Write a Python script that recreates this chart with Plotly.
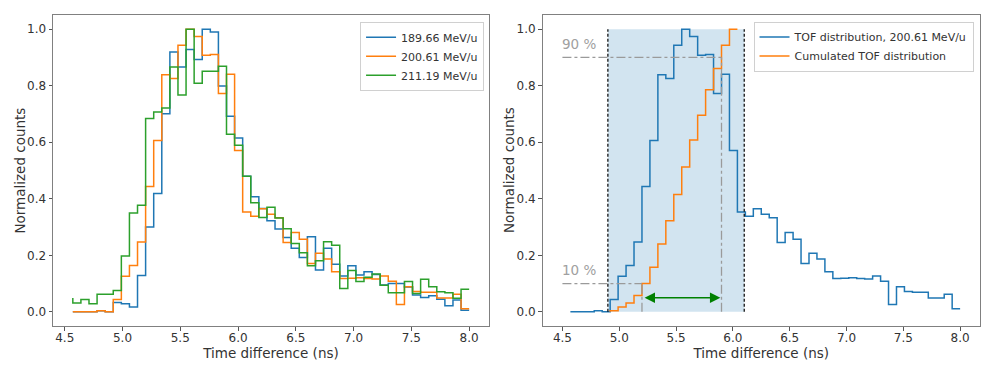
import numpy as np
import plotly.graph_objects as go

# bin edges of the TOF histograms (ns)
tof_edges = np.round(4.57 + 0.07 * np.arange(50), 2)

# normalized counts, first value = start point of the step line, then one per bin
counts_18966 = [0, 0, 0, 0, 0.004, 0, 0.033, 0.029, 0.017, 0.129, 0.30, 0.419, 0.701,
                0.919, 0.866, 0.928, 0.893, 1.0, 0.99, 0.799, 0.692, 0.615, 0.48, 0.407,
                0.366, 0.322, 0.293, 0.263, 0.225, 0.192, 0.266, 0.148, 0.225, 0.168,
                0.127, 0.163, 0.13, 0.142, 0.132, 0.095, 0.1, 0.1, 0.088, 0.06, 0.051,
                0.057, 0.045, 0.022, 0.042, 0.006]
counts_20061 = [0, 0, 0, 0, 0.004, 0, 0.044, 0.126, 0.164, 0.247, 0.443, 0.606, 0.839,
                0.825, 0.943, 1.0, 0.974, 0.908, 0.91, 0.772, 0.84, 0.571, 0.353, 0.338,
                0.365, 0.345, 0.333, 0.245, 0.281, 0.257, 0.171, 0.207, 0.187, 0.142,
                0.118, 0.119, 0.121, 0.118, 0.116, 0.127, 0.108, 0.026, 0.089, 0.072,
                0.069, 0.069, 0.049, 0.049, 0.062, 0.011]
counts_21119 = [0.049, 0.031, 0.044, 0.029, 0.062, 0.062, 0.076, 0.198, 0.35, 0.377,
                0.684, 0.707, 0.721, 0.866, 0.767, 1.0, 0.809, 0.851, 0.851, 0.869,
                0.628, 0.589, 0.48, 0.386, 0.334, 0.37, 0.332, 0.294, 0.242, 0.209,
                0.163, 0.181, 0.248, 0.236, 0.083, 0.146, 0.107, 0.122, 0.134, 0.094,
                0.068, 0.068, 0.107, 0.065, 0.115, 0.089, 0.071, 0.068, 0.048, 0.08]

# cumulated distribution inside the selection window
cumul_edges = tof_edges[5:22]
cumul_20061 = [0, 0.004, 0.017, 0.031, 0.058, 0.100, 0.158, 0.240, 0.322, 0.415,
               0.512, 0.608, 0.695, 0.786, 0.861, 0.943, 1.0]

window = (4.9, 6.1)
levels = (0.1, 0.9)
level_times = (5.2, 5.9)
level_labels = ["10 %", "90 %"]

FONT = "DejaVu Sans"
TXT = "#333333"
blue, orange, green = "#1f77b4", "#ff7f0e", "#2ca02c"

fig = go.Figure()

# left panel
for vals, name, col in [(counts_18966, "189.66 MeV/u", blue),
                        (counts_20061, "200.61 MeV/u", orange),
                        (counts_21119, "211.19 MeV/u", green)]:
    fig.add_trace(go.Scatter(x=tof_edges, y=vals, mode="lines", line_shape="vh",
                             line=dict(color=col, width=1.5), name=name,
                             xaxis="x", yaxis="y", legend="legend"))

# right panel
fig.add_trace(go.Scatter(x=tof_edges, y=counts_20061, mode="lines", line_shape="vh",
                         line=dict(color=blue, width=1.5),
                         name="TOF distribution, 200.61 MeV/u",
                         xaxis="x2", yaxis="y2", legend="legend2"))
fig.add_trace(go.Scatter(x=cumul_edges, y=cumul_20061, mode="lines", line_shape="vh",
                         line=dict(color=orange, width=1.5),
                         name="Cumulated TOF distribution",
                         xaxis="x2", yaxis="y2", legend="legend2"))

shapes = [
    dict(type="rect", xref="x2", yref="y2", x0=window[0], x1=window[1], y0=0, y1=1,
         fillcolor="rgba(31,119,180,0.2)", line=dict(width=0), layer="below"),
]
for xv in window:
    shapes.append(dict(type="line", xref="x2", yref="y2", x0=xv, x1=xv, y0=0, y1=1,
                       line=dict(color="black", width=1.2, dash="3px,2px")))
for lv, tv in zip(levels, level_times):
    shapes.append(dict(type="line", xref="x2", yref="y2", x0=4.5, x1=tv, y0=lv, y1=lv,
                       line=dict(color="#9a9a9a", width=1.3, dash="dashdot")))
    shapes.append(dict(type="line", xref="x2", yref="y2", x0=tv, x1=tv, y0=0, y1=lv,
                       line=dict(color="#9a9a9a", width=1.3, dash="dashdot")))

annotations = []
for lv, lab in zip(levels, level_labels):
    annotations.append(dict(x=4.5, y=lv + 0.012, xref="x2", yref="y2", text=lab,
                            showarrow=False, xanchor="left", yanchor="bottom",
                            xshift=-2, font=dict(family=FONT, size=13.5, color="#a0a0a0")))
annotations.append(dict(x=level_times[1] - 0.01, y=0.05, ax=level_times[0] + 0.01, ay=0.05,
                        xref="x2", yref="y2", axref="x2", ayref="y2", text="",
                        showarrow=True, arrowhead=2, arrowside="end+start",
                        arrowsize=1.3, arrowwidth=1.6, arrowcolor="green"))
# y axis titles as rotated text, placed left of each panel
for xp in (-0.0366, 0.4915):
    annotations.append(dict(x=xp, y=0.5, xref="paper", yref="paper",
                            text="Normalized counts", textangle=-90, showarrow=False,
                            xanchor="center", yanchor="middle",
                            font=dict(family=FONT, size=13.5, color=TXT)))

axis_common = dict(showline=True, linecolor="#808080", linewidth=1, mirror=True,
                   ticks="outside", ticklen=3.5, tickcolor="#555555", showgrid=False,
                   zeroline=False, automargin=False,
                   tickfont=dict(family=FONT, size=12, color=TXT))
x_title = dict(text="Time difference (ns)", standoff=0,
               font=dict(family=FONT, size=13.5, color=TXT))
x_ticks = dict(tickvals=np.arange(4.5, 8.01, 0.5), tickformat=".1f", ticklabelstandoff=-3)
y_ticks = dict(tickvals=np.arange(0, 1.01, 0.2), tickformat=".1f", range=[-0.05, 1.05],
               domain=[0, 1])
legend_style = dict(xanchor="right", yanchor="top", bgcolor="rgba(255,255,255,0.8)",
                    bordercolor="#d0d0d0", borderwidth=1,
                    font=dict(family=FONT, size=11, color=TXT), itemwidth=30,
                    tracegroupgap=0)

fig.update_layout(
    width=996, height=374,
    margin=dict(l=53, r=16, t=15, b=48),
    plot_bgcolor="white", paper_bgcolor="white",
    font=dict(family=FONT, color=TXT),
    shapes=shapes, annotations=annotations,
    xaxis=dict(domain=[0, 0.4703], range=[4.3985, 8.1715], title=x_title,
               **x_ticks, **axis_common),
    yaxis=dict(anchor="x", **y_ticks, **axis_common),
    xaxis2=dict(domain=[0.5281, 1], range=[4.325, 8.175], anchor="y2", title=x_title,
                **x_ticks, **axis_common),
    yaxis2=dict(anchor="x2", **y_ticks, **axis_common),
    legend=dict(x=0.465, y=0.978, **legend_style),
    legend2=dict(x=0.993, y=0.979, **legend_style),
)

# drop the default page margin so the figure sits at the window origin
fig.write_html("out.html", config={"displayModeBar": False},
               post_script="document.body.style.margin='0';")
